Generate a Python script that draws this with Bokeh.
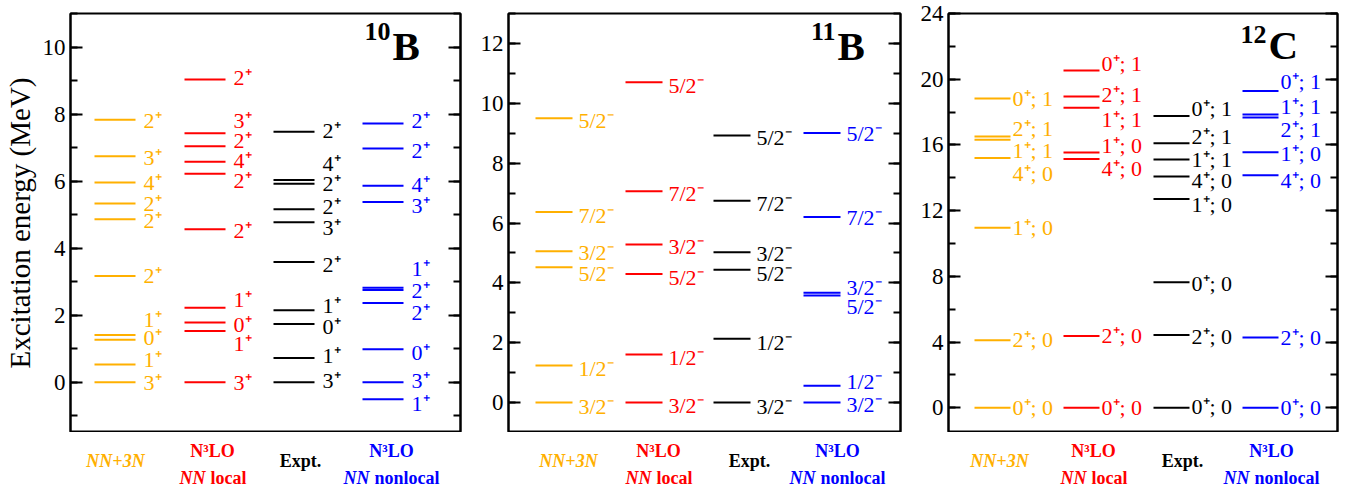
from bokeh.plotting import figure
from bokeh.models import ColumnDataSource, Label, LinearAxis, SingleIntervalTicker, Range1d
from bokeh.layouts import row, column
from bokeh.core.properties import value
from bokeh.embed import file_html
from bokeh.resources import INLINE

ORANGE = "#FFB000"
RED = "#FF0000"
BLACK = "#000000"
BLUE = "#0000FF"
SERIF = "Liberation Serif"

# ---------------- 10B ----------------
b10_nn3n_E = [0.0, 0.53, 1.27, 1.41, 3.17, 4.86, 5.33, 5.96, 6.74, 7.83]
b10_nn3n_J = ["3⁺", "1⁺", "0⁺", "1⁺", "2⁺", "2⁺", "2⁺", "4⁺", "3⁺", "2⁺"]
b10_nn3n_labE = [0.0, 0.69, 1.34, 1.88, 3.17, 4.83, 5.33, 5.97, 6.71, 7.8]

b10_loc_E = [0.0, 1.53, 1.78, 2.22, 4.56, 6.22, 6.58, 7.04, 7.43, 9.03]
b10_loc_J = ["3⁺", "1⁺", "0⁺", "1⁺", "2⁺", "2⁺", "4⁺", "2⁺", "3⁺", "2⁺"]
b10_loc_labE = [0.0, 1.16, 1.73, 2.48, 4.53, 6.02, 6.61, 7.21, 7.8, 9.09]

b10_exp_E = [0.0, 0.72, 1.74, 2.15, 3.59, 4.77, 5.16, 5.92, 6.03, 7.47]
b10_exp_J = ["3⁺", "1⁺", "0⁺", "1⁺", "2⁺", "3⁺", "2⁺", "2⁺", "4⁺", "2⁺"]
b10_exp_labE = [0.05, 0.79, 1.65, 2.28, 3.51, 4.63, 5.23, 5.94, 6.53, 7.5]

b10_nonloc_E = [-0.51, 0.0, 0.98, 2.36, 2.75, 2.82, 5.38, 5.86, 6.97, 7.72]
b10_nonloc_J = ["1⁺", "3⁺", "0⁺", "2⁺", "2⁺", "1⁺", "3⁺", "4⁺", "2⁺", "2⁺"]
b10_nonloc_labE = [-0.64, 0.05, 0.89, 2.08, 2.75, 3.4, 5.26, 5.89, 6.91, 7.8]

# ---------------- 11B ----------------
b11_nn3n_E = [0.0, 1.24, 4.52, 5.06, 6.37, 9.5]
b11_nn3n_J = ["3/2⁻", "1/2⁻", "5/2⁻", "3/2⁻", "7/2⁻", "5/2⁻"]
b11_nn3n_labE = [-0.12, 1.13, 4.3, 5.02, 6.26, 9.42]

b11_loc_E = [0.0, 1.61, 4.3, 5.28, 7.06, 10.7]
b11_loc_J = ["3/2⁻", "1/2⁻", "5/2⁻", "3/2⁻", "7/2⁻", "5/2⁻"]
b11_loc_labE = [-0.09, 1.52, 4.17, 5.2, 7.0, 10.59]

b11_exp_E = [0.0, 2.13, 4.44, 5.02, 6.74, 8.92]
b11_exp_J = ["3/2⁻", "1/2⁻", "5/2⁻", "3/2⁻", "7/2⁻", "5/2⁻"]
b11_exp_labE = [-0.14, 2.02, 4.32, 4.97, 6.64, 8.87]

b11_nonloc_E = [0.0, 0.56, 3.58, 3.67, 6.2, 9.01]
b11_nonloc_J = ["3/2⁻", "1/2⁻", "5/2⁻", "3/2⁻", "7/2⁻", "5/2⁻"]
b11_nonloc_labE = [-0.06, 0.69, 3.21, 3.86, 6.2, 8.98]

# ---------------- 12C ----------------
c12_nn3n_E = [0.0, 4.12, 10.96, 15.2, 16.31, 16.52, 18.83]
c12_nn3n_J = ["0⁺; 0", "2⁺; 0", "1⁺; 0", "4⁺; 0", "1⁺; 1", "2⁺; 1", "0⁺; 1"]
c12_nn3n_labE = [0.04, 4.18, 10.96, 14.26, 15.68, 17.0, 18.83]

c12_loc_E = [0.0, 4.38, 15.14, 15.54, 18.26, 18.95, 20.53]
c12_loc_J = ["0⁺; 0", "2⁺; 0", "4⁺; 0", "1⁺; 0", "1⁺; 1", "2⁺; 1", "0⁺; 1"]
c12_loc_labE = [0.04, 4.42, 14.57, 15.95, 17.55, 19.07, 20.96]

c12_exp_E = [0.0, 4.44, 7.65, 12.71, 14.08, 15.11, 16.11, 17.76]
c12_exp_J = ["0⁺; 0", "2⁺; 0", "0⁺; 0", "1⁺; 0", "4⁺; 0", "1⁺; 1", "2⁺; 1", "0⁺; 1"]
c12_exp_labE = [0.1, 4.32, 7.58, 12.4, 13.86, 15.12, 16.5, 18.22]

c12_nonloc_E = [0.0, 4.28, 14.16, 15.56, 17.67, 17.85, 19.29]
c12_nonloc_J = ["0⁺; 0", "2⁺; 0", "4⁺; 0", "1⁺; 0", "2⁺; 1", "1⁺; 1", "0⁺; 1"]
c12_nonloc_labE = [0.04, 4.28, 13.86, 15.48, 16.94, 18.32, 19.84]

# method labels (bottom)
method_nn3n = "NN+3N"
method_n3lo = "N³LO"
method_nn = "NN"
method_local = "local"
method_nonlocal = "nonlocal"
method_expt = "Expt."

FRAME_H = 419
STRIP_H = 56


def make_panel(cols, yr, major, n_minor, frame_w, starts, line_len, gap,
               mass, elem, elem_px, elem_dy, mass_dy, meth_px,
               border_l, border_r, ylabel=None):
    p = figure(frame_width=frame_w, frame_height=FRAME_H,
               x_range=Range1d(0, 1), y_range=Range1d(*yr),
               output_backend="svg", toolbar_location=None,
               x_axis_type=None, y_axis_location="left",
               min_border_left=border_l, min_border_right=border_r,
               min_border_top=13, min_border_bottom=0)
    p.background_fill_color = "white"
    p.border_fill_color = "white"
    p.outline_line_color = "black"
    p.outline_line_width = 2
    p.xgrid.visible = False
    p.ygrid.visible = False
    ppu = FRAME_H / (yr[1] - yr[0])

    def style_axis(ax, labels=True):
        ax.ticker = SingleIntervalTicker(interval=major, num_minor_ticks=n_minor)
        ax.axis_line_width = 2
        ax.axis_line_color = "black"
        ax.major_tick_in = 12
        ax.major_tick_out = 0
        ax.minor_tick_in = 7
        ax.minor_tick_out = 0
        ax.major_tick_line_width = 2
        ax.minor_tick_line_width = 2
        ax.major_tick_line_color = "black"
        ax.minor_tick_line_color = "black"
        ax.major_label_text_font = SERIF
        if labels:
            ax.major_label_text_color = "black"
            ax.major_label_text_font_size = "23px"
            ax.major_label_standoff = 5
        else:
            ax.major_label_text_color = None
            ax.major_label_text_font_size = "0px"
            ax.major_label_standoff = 0

    yax = p.yaxis[0]
    style_axis(yax)
    if ylabel:
        yax.axis_label = ylabel
        yax.axis_label_text_font = SERIF
        yax.axis_label_text_color = "black"
        yax.axis_label_text_font_style = "normal"
        yax.axis_label_text_font_size = "29px"
        yax.axis_label_standoff = 4
    rax = LinearAxis()
    style_axis(rax, labels=False)
    p.add_layout(rax, "right")

    for (E, J, labE, color), x0 in zip(cols, starts):
        xs0 = [x0 / frame_w] * len(E)
        xs1 = [(x0 + line_len) / frame_w] * len(E)
        src = ColumnDataSource(dict(x0=xs0, x1=xs1, y=E))
        p.segment(x0="x0", y0="y", x1="x1", y1="y", source=src,
                  line_color=color, line_width=2, line_cap="butt")
        lsrc = ColumnDataSource(dict(x=xs1, y=labE, t=J))
        p.text(x="x", y="y", text="t", source=lsrc, x_offset=gap,
               text_font=value(SERIF), text_font_size="22px",
               text_color=color, text_align="left", text_baseline="middle")

    # nucleus label
    p.add_layout(Label(x=elem_px / frame_w, y=yr[1] - elem_dy / ppu, text=elem,
                       text_font=SERIF, text_font_style="bold", text_font_size="41px",
                       text_align="left", text_baseline="middle", text_color="black"))
    p.add_layout(Label(x=elem_px / frame_w, y=yr[1] - mass_dy / ppu, x_offset=-2, text=mass,
                       text_font=SERIF, text_font_style="bold", text_font_size="26px",
                       text_align="right", text_baseline="middle", text_color="black"))

    # strip below the frame for the method labels
    s = figure(frame_width=frame_w, frame_height=STRIP_H,
               x_range=Range1d(0, 1), y_range=Range1d(STRIP_H, 0),
               output_backend="svg", toolbar_location=None,
               x_axis_type=None, y_axis_type=None,
               min_border_left=border_l, min_border_right=border_r,
               min_border_top=0, min_border_bottom=0)
    s.outline_line_color = None
    s.xgrid.visible = False
    s.ygrid.visible = False
    s.background_fill_color = "white"
    s.border_fill_color = "white"

    def lab(px, dy, text, color, style, align="center", xoff=0):
        s.text(x=[px / frame_w], y=[dy], text=[text], x_offset=xoff,
               text_font=value(SERIF), text_font_style=style, text_font_size="18px",
               text_color=color, text_align=align, text_baseline="middle")

    lab(meth_px[0], 28, method_nn3n, ORANGE, "bold italic")
    lab(meth_px[1], 18, method_n3lo, RED, "bold")
    lab(meth_px[1], 45, method_nn, RED, "bold italic", "right", -7)
    lab(meth_px[1], 45, method_local, RED, "bold", "left", -2)
    lab(meth_px[2], 28, method_expt, BLACK, "bold")
    lab(meth_px[3], 18, method_n3lo, BLUE, "bold")
    lab(meth_px[3], 45, method_nn, BLUE, "bold italic", "right", -22)
    lab(meth_px[3], 45, method_nonlocal, BLUE, "bold", "left", -17)
    return column(p, s, spacing=0)


p1 = make_panel(
    [(b10_nn3n_E, b10_nn3n_J, b10_nn3n_labE, ORANGE),
     (b10_loc_E, b10_loc_J, b10_loc_labE, RED),
     (b10_exp_E, b10_exp_J, b10_exp_labE, BLACK),
     (b10_nonloc_E, b10_nonloc_J, b10_nonloc_labE, BLUE)],
    (-1.5, 11), 2, 2, 390, [24, 114, 203, 292], 41, 8,
    "10", "B", 322, 32, 18, [45, 142, 230, 321], 57, 14,
    ylabel="Excitation energy (MeV)")

p2 = make_panel(
    [(b11_nn3n_E, b11_nn3n_J, b11_nn3n_labE, ORANGE),
     (b11_loc_E, b11_loc_J, b11_loc_labE, RED),
     (b11_exp_E, b11_exp_J, b11_exp_labE, BLACK),
     (b11_nonloc_E, b11_nonloc_J, b11_nonloc_labE, BLUE)],
    (-1, 13), 2, 2, 392, [27, 117, 205, 295], 37, 6,
    "11", "B", 329, 32, 18, [60, 150, 241, 329], 34, 14)

p3 = make_panel(
    [(c12_nn3n_E, c12_nn3n_J, c12_nn3n_labE, ORANGE),
     (c12_loc_E, c12_loc_J, c12_loc_labE, RED),
     (c12_exp_E, c12_exp_J, c12_exp_labE, BLACK),
     (c12_nonloc_E, c12_nonloc_J, c12_nonloc_labE, BLUE)],
    (-1.5, 24), 4, 2, 389, [26, 115, 205, 294], 36, 2,
    "12", "C", 320, 31, 21, [51, 145, 234, 323], 34, 10)

layout = row(p1, p2, p3, spacing=0)
open("out.html", "w").write(file_html(layout, INLINE))
